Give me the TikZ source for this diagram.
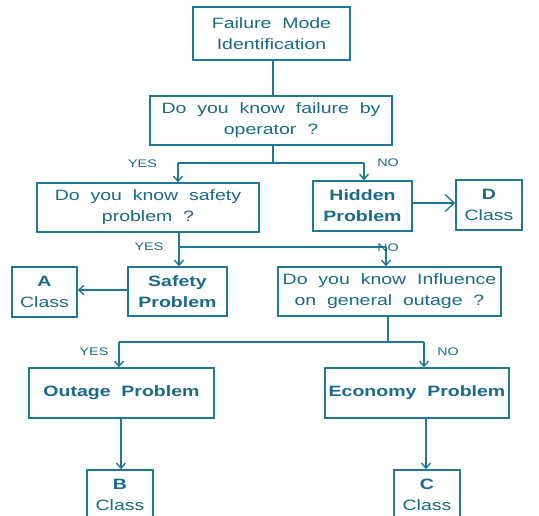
\documentclass[tikz,border=0pt]{standalone}
\usepackage{fontspec}
\setmainfont{Liberation Sans}[FakeStretch=1.3, WordSpace=2]
\usetikzlibrary{arrows.meta}
\definecolor{teal1}{RGB}{30,120,150}
\definecolor{tealtxt}{RGB}{24,106,136}
\begin{document}
\begin{tikzpicture}[x=1pt,y=-1pt,
  box/.style={draw=teal1, line width=1.6pt, text=tealtxt, align=center, inner sep=0pt,
    font=\fontsize{15}{21}\selectfont},
  lbl/.style={text=tealtxt, inner sep=0pt, font=\fontsize{11}{13}\selectfont},
  conn/.style={draw=teal1, line width=1.6pt},
  arr/.style={conn, -{Straight Barb[length=5pt,width=9pt,line width=1.4pt]}},
  bigarr/.style={conn, -{Straight Barb[length=9pt,width=17pt,line width=1.4pt]}}]
\clip (0,0) rectangle (539,516);
% boxes
\node[box, minimum width=157, minimum height=53] (fmi) at (271.5,33.5) {Failure Mode\\Identification};
\node[box, minimum width=242, minimum height=49] (q1) at (271,120.5) {Do you know failure by\\operator ?};
\node[box, minimum width=222, minimum height=49] (q2) at (148,207.5) {Do you know safety\\problem ?};
\node[box, minimum width=99, minimum height=50] (hid) at (362.5,206) {\textbf{Hidden}\\\textbf{Problem}};
\node[box, minimum width=66, minimum height=50] (D) at (489,205) {\textbf{D}\\Class};
\node[box, minimum width=99, minimum height=49] (safe) at (177.5,291.5) {\textbf{Safety}\\\textbf{Problem}};
\node[box, minimum width=65, minimum height=50] (A) at (44.5,292) {\textbf{A}\\Class};
\node[box, minimum width=223, minimum height=49] (q3) at (389.5,291.5) {Do you know Influence\\on general outage ?};
\node[box, minimum width=185, minimum height=50] (out) at (121.5,393) {\textbf{Outage Problem}};
\node[box, minimum width=184, minimum height=50] (eco) at (417,393) {\textbf{Economy Problem}};
\node[box, minimum width=66, minimum height=50] (B) at (120,495) {\textbf{B}\\Class};
\node[box, minimum width=66, minimum height=50] (C) at (427,495) {\textbf{C}\\Class};
% junction coordinates
\coordinate (j1) at (273,163);
\coordinate (l1) at (178,163);
\coordinate (r1) at (364,163);
\coordinate (j2) at (179,247);
\coordinate (r2) at (386,247);
\coordinate (j3) at (388,342);
\coordinate (l3) at (119,342);
\coordinate (r3) at (424,342);
\coordinate (hd) at (0,203);
\coordinate (sa) at (0,290);
% connectors
\draw[conn] (fmi.south -| j1) -- (q1.north -| j1);
\draw[conn] (q1.south -| j1) -- (j1);
\draw[conn] (l1) -- (r1);
\draw[arr] (l1) -- (l1 |- q2.north);
\draw[arr] (r1) -- (r1 |- hid.north);
\draw[bigarr] (hid.east |- hd) -- (D.west |- hd);
\draw[conn] (q2.south -| j2) -- (j2) -- (r2);
\draw[arr] (j2) -- (j2 |- safe.north);
\draw[arr] (r2) -- (r2 |- q3.north);
\draw[arr] (safe.west |- sa) -- (A.east |- sa);
\draw[conn] (q3.south -| j3) -- (j3);
\draw[conn] (l3) -- (r3);
\draw[arr] (l3) -- (l3 |- out.north);
\draw[arr] (r3) -- (r3 |- eco.north);
\draw[arr] (out.south -| 121,0) -- (B.north -| 121,0);
\draw[arr] (eco.south -| 426,0) -- (C.north -| 426,0);
% labels
\node[lbl] (y1) at (142.5,164) {YES};
\node[lbl] (n1) at (388,163) {NO};
\node[lbl] (y2) at (149,247) {YES};
\node[lbl] (n2) at (388,248) {NO};
\node[lbl] (y3) at (94,352) {YES};
\node[lbl] (n3) at (448,352) {NO};
\end{tikzpicture}
\end{document}
